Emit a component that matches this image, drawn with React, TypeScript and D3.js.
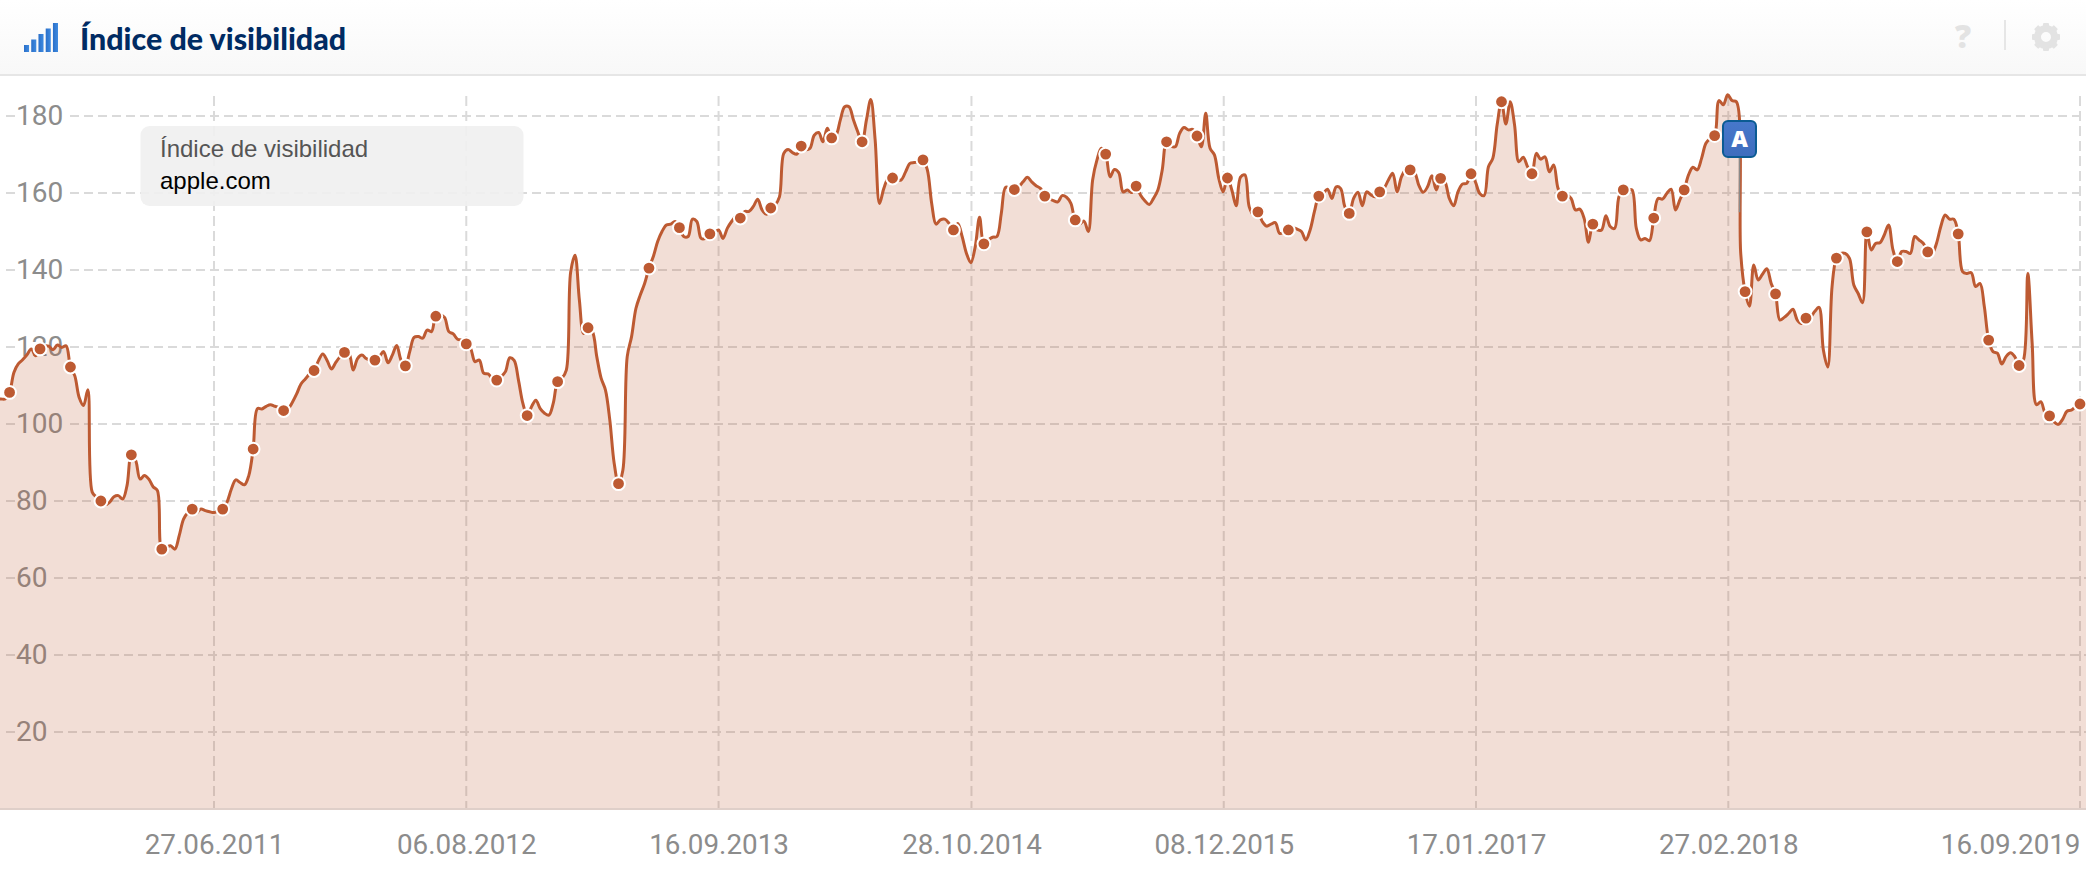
import React, { useEffect, useRef } from "react";
import * as d3 from "d3";

const WIDTH = 2086;
const HEIGHT = 876;

// weekly readings, first one is the week of firstWeek
const firstWeek = "12.07.2010";
const markerOffset = 3; // a dot every 7 weeks, from index 3
const markerStep = 7;
const values = [
  106.5, 106.5, 106.5, 108.2, 113.4, 115.6, 116.7, 118, 119.5, 117.7, 119.5, 120.3, 120.2, 119.3, 120.5, 119.9, 120.3, 114.8, 112.5, 106.9,
  104.8, 108.9, 82.3, 81, 80, 79, 79.7, 81.1, 81.4, 80.5, 84, 92, 90.5, 85.7, 86.6, 85.7, 83.7, 82.7, 67.5, 68,
  68.4, 67.5, 71, 75.3, 77, 77.9, 77, 77.9, 77.5, 77.2, 77, 77.5, 77.9, 79.7, 83.1, 85.5, 84.8, 84.2, 86.6, 93.5,
  104, 103.9, 104.6, 105, 104.6, 104.3, 103.5, 103.9, 105.6, 107.8, 110.4, 111.7, 113, 113.9, 116.4, 118.2, 116.5, 114.3, 116, 117.5,
  118.6, 118.4, 114, 117, 117.9, 117, 116.5, 116.6, 117.5, 118.8, 115.9, 117.9, 120.4, 116.6, 115.1, 118.8, 122.5, 122.7, 122.3, 124.4,
  124, 128, 128.3, 127.7, 124, 123.4, 122, 121.8, 120.8, 119.6, 116.2, 116.6, 113.2, 113, 111.9, 111.4, 112.3, 113.6, 117.2, 116.5,
  111.4, 105.4, 102.2, 104.5, 106.2, 104, 102.8, 102.3, 105.4, 111, 111.9, 114, 139.5, 143.8, 132.2, 123.5, 125, 124, 117.5, 111.9,
  108.8, 101, 89.8, 84.5, 88, 117.5, 122.7, 130, 133.5, 136.5, 140.5, 143.5, 147.4, 150, 151.7, 151.9, 152.6, 151, 148.7, 148.7,
  153.2, 152.6, 148.2, 148.2, 149.4, 149.7, 150.4, 148.2, 150.8, 152.6, 153.9, 153.5, 155.2, 155.2, 156.5, 158.4, 155.6, 154.5, 156.1, 156.9,
  159, 170.3, 171.3, 170.5, 170.1, 172.2, 171.3, 171.6, 175, 175.7, 173.3, 176.8, 174.3, 175, 179, 182.4, 182.4, 179, 175.9, 173.3,
  179, 184.3, 173.8, 157.3, 161.2, 163.8, 163.9, 163.4, 163.4, 165.5, 167.7, 167.9, 168.1, 168.6, 166, 157.3, 151.9, 153, 153.2, 152.1,
  150.4, 152.1, 148.7, 144.3, 141.9, 146, 153.7, 146.8, 147.8, 148.5, 148.7, 154.7, 161.5, 161.2, 160.9, 161.6, 162.9, 164.1, 162.9, 161.9,
  161.2, 159.2, 158.6, 158, 157.7, 159.3, 158.9, 157.3, 153, 152, 152.7, 150, 163.4, 168.6, 171.6, 170.1, 164.2, 166.1, 165.3, 160.3,
  160.8, 160.1, 161.8, 159.5, 158, 157, 158.6, 160.8, 166, 173.3, 172.2, 172, 175.5, 177, 176.4, 176.5, 174.8, 172, 180.7, 171.6,
  169.9, 163.8, 160.3, 163.9, 160.8, 156.7, 164.1, 164.7, 156.4, 154.3, 155.1, 152.6, 151.4, 151.9, 152.3, 149.5, 149.8, 150.4, 151, 150.6,
  150, 147.8, 150.4, 155.2, 159.2, 159.9, 161, 158.6, 161.6, 161.2, 156.4, 154.7, 158.6, 160.2, 156.7, 160.3, 159.5, 159, 160.3, 161.2,
  163.4, 165.1, 160.3, 164.2, 166, 166, 165.4, 162, 160.2, 161.6, 164.5, 160.8, 163.8, 162.9, 158.6, 156.7, 160.3, 162.3, 162.5, 165,
  162.9, 159.9, 159.3, 166.8, 169, 177.7, 183.7, 177.9, 183.7, 177.7, 168.1, 169.3, 166.8, 165, 170.3, 168.8, 169.4, 165.5, 167.3, 161.2,
  159.2, 159.5, 158.6, 155.6, 155.8, 153.4, 147.2, 151.9, 150.4, 150.4, 154.1, 151.3, 150.8, 159, 160.8, 160.8, 160.8, 150.8, 147.8, 148.2,
  147.6, 153.5, 158.6, 158.4, 159.9, 161, 155.6, 158.2, 160.8, 164.7, 166.7, 166, 169, 172.9, 174.2, 174.9, 184, 182.9, 185.5, 184,
  183.7, 144.3, 134.4, 130.6, 141.3, 137.4, 138.9, 140.3, 136.5, 133.8, 127, 127.7, 128.7, 129.8, 127, 126.1, 127.5, 127.7, 129.2, 130.3,
  119.2, 114.8, 135.7, 143.1, 144.3, 144.3, 143, 136.1, 133.9, 131.5, 149.9, 145.2, 146.9, 147.1, 149.1, 151.7, 145.2, 142.2, 144.8, 144.8,
  144.3, 148.7, 147.8, 146.9, 144.7, 144.3, 146.9, 151.3, 154.3, 153.2, 153.2, 149.4, 139.6, 139.1, 139.3, 135.7, 136.5, 130.5, 121.8, 118.8,
  118.4, 115.6, 117.5, 118.5, 117.5, 115.2, 116.6, 139.1, 121, 105, 105.8, 102.8, 102.1, 100.6, 99.9, 101.2, 103.3, 103.6, 104.5, 105.2,
  105.5, 105.6,
];

const yTicks = [20, 40, 60, 80, 100, 120, 140, 160, 180];
const xTicks = ["27.06.2011", "06.08.2012", "16.09.2013", "28.10.2014", "08.12.2015", "17.01.2017", "27.02.2018", "16.09.2019"];
const iconBars = [1, 2, 3, 4, 5];
const flagDate = "17.03.2018";
const flagValue = 155;

const LINE = "#bd5a32";
const GRID = "#dadada";
const TICK = "#8c8c8c";

const App = () => {
  const ref = useRef<SVGSVGElement>(null);

  useEffect(() => {
    const svg = d3.select(ref.current);
    svg.selectAll("*").remove();

    const parse = d3.timeParse("%d.%m.%Y");
    const fmt = d3.timeFormat("%d.%m.%Y");
    const tickDates = xTicks.map((d) => parse(d) as Date);
    const start = parse(firstWeek) as Date;
    const data = values.map((v, i) => ({ date: d3.timeDay.offset(start, i * 7), value: v, i }));

    const x = d3.scaleTime().domain([tickDates[0], tickDates[tickDates.length - 1]]).range([214, 2080]);
    const y = d3.scaleLinear().domain([0, 180]).range([809, 116]);

    const defs = svg.append("defs");
    const head = defs.append("linearGradient").attr("id", "head").attr("x1", 0).attr("x2", 0).attr("y1", 0).attr("y2", 1);
    head.append("stop").attr("offset", "0%").attr("stop-color", "#ffffff");
    head.append("stop").attr("offset", "100%").attr("stop-color", "#f8f8f8");
    const bars = defs.append("linearGradient").attr("id", "bars").attr("x1", 0).attr("x2", 1).attr("y1", 0).attr("y2", 0);
    bars.append("stop").attr("offset", "0%").attr("stop-color", "#2a6fc9");
    bars.append("stop").attr("offset", "100%").attr("stop-color", "#3f8be0");
    const flag = defs.append("linearGradient").attr("id", "flag").attr("x1", 0).attr("x2", 0).attr("y1", 0).attr("y2", 1);
    flag.append("stop").attr("offset", "0%").attr("stop-color", "#4778cb");
    flag.append("stop").attr("offset", "100%").attr("stop-color", "#3e6dbd");
    defs.append("clipPath").attr("id", "plot").append("rect").attr("x", 0).attr("y", 76).attr("width", WIDTH).attr("height", 733);

    svg.append("rect").attr("width", WIDTH).attr("height", HEIGHT).attr("fill", "#ffffff");

    // header
    svg.append("rect").attr("width", WIDTH).attr("height", 75).attr("fill", "url(#head)");
    svg.append("rect").attr("y", 74).attr("width", WIDTH).attr("height", 2).attr("fill", "#e6e6e6");
    const barX = d3.scaleBand<number>().domain(iconBars).range([24, 58]).paddingInner(0.3);
    const barH = d3.scaleLinear().domain([1, 5]).range([7, 29]);
    svg.append("g").selectAll("rect").data(iconBars).join("rect")
      .attr("x", (d) => barX(d) as number)
      .attr("y", (d) => 52 - barH(d))
      .attr("width", barX.bandwidth())
      .attr("height", (d) => barH(d))
      .attr("fill", "url(#bars)");
    svg.append("text").attr("x", 80).attr("y", 50)
      .attr("font-family", "Lato").attr("font-weight", 900).attr("font-size", 30.4).attr("fill", "#002b63")
      .text("Índice de visibilidad");

    svg.append("text").attr("x", 1963).attr("y", 48).attr("text-anchor", "middle")
      .attr("font-family", "Open Sans").attr("font-weight", 800).attr("font-size", 32).attr("fill", "#e3e3e3").text("?");
    svg.append("rect").attr("x", 2004).attr("y", 20).attr("width", 2).attr("height", 30).attr("fill", "#e6e6e6");
    const gear = svg.append("g").attr("transform", "translate(2046,37)").attr("fill", "#e3e3e3");
    gear.append("circle").attr("r", 8.5).attr("fill", "none").attr("stroke", "#e3e3e3").attr("stroke-width", 7);
    d3.range(8).forEach((i) => {
      gear.append("rect").attr("x", -3).attr("y", -14).attr("width", 6).attr("height", 6).attr("rx", 1)
        .attr("transform", `rotate(${i * 45})`);
    });

    // grid and axis labels sit under the translucent area
    const grid = svg.append("g").attr("fill", "none").attr("stroke", GRID).attr("stroke-width", 2);
    xTicks.forEach((d, i) => {
      grid.append("line").attr("x1", x(tickDates[i])).attr("x2", x(tickDates[i]))
        .attr("y1", 96).attr("y2", 809).attr("stroke-dasharray", "10 5");
    });
    yTicks.forEach((v) => {
      const labelEnd = v >= 100 ? 70 : 54;
      grid.append("line").attr("x1", 6).attr("x2", 15).attr("y1", y(v)).attr("y2", y(v));
      grid.append("line").attr("x1", labelEnd).attr("x2", WIDTH).attr("y1", y(v)).attr("y2", y(v))
        .attr("stroke-dasharray", "9 5");
    });

    const yAxis = d3.axisLeft(y).tickValues(yTicks).tickSize(0).tickPadding(0);
    const yG = svg.append("g").attr("transform", "translate(16,0)").call(yAxis);
    yG.select(".domain").remove();
    yG.selectAll("text")
      .attr("text-anchor", "start").attr("x", 0).attr("dy", "0.29em")
      .attr("font-family", "Roboto").attr("font-size", 28).attr("fill", TICK);

    const xAxis = d3.axisBottom(x).tickValues(tickDates).tickFormat((d) => fmt(d as Date)).tickSize(0).tickPadding(0);
    const xG = svg.append("g").attr("transform", "translate(0,854)").call(xAxis);
    xG.select(".domain").remove();
    xG.selectAll("text")
      .attr("y", 0).attr("dy", 0)
      .attr("text-anchor", (_, i) => (i === xTicks.length - 1 ? "end" : "middle"))
      .attr("font-family", "Roboto").attr("font-size", 27.8).attr("fill", TICK);

    // legend box
    svg.append("rect").attr("x", 140.5).attr("y", 126).attr("width", 383).attr("height", 80).attr("rx", 9)
      .attr("fill", "#f0f0f0").attr("fill-opacity", 0.92);
    svg.append("text").attr("x", 160).attr("y", 157).attr("font-family", "Liberation Sans").attr("font-size", 24)
      .attr("fill", "#555555").text("Índice de visibilidad");
    svg.append("text").attr("x", 160).attr("y", 189).attr("font-family", "Liberation Sans").attr("font-size", 24)
      .attr("fill", "#000000").text("apple.com");

    const curve = d3.curveCatmullRom.alpha(0.5);
    const area = d3.area<(typeof data)[number]>().x((d) => x(d.date)).y0(y(0)).y1((d) => y(d.value)).curve(curve);
    const line = d3.line<(typeof data)[number]>().x((d) => x(d.date)).y((d) => y(d.value)).curve(curve);

    const plot = svg.append("g").attr("clip-path", "url(#plot)");
    plot.append("path").datum(data).attr("d", area).attr("fill", LINE).attr("fill-opacity", 0.2);
    svg.append("rect").attr("x", 0).attr("y", 808).attr("width", WIDTH).attr("height", 2).attr("fill", "#dfcfc9");
    plot.append("path").datum(data).attr("d", line).attr("fill", "none").attr("stroke", LINE)
      .attr("stroke-width", 3).attr("stroke-linejoin", "round");

    // flag stem, dots, flag
    const fx = x(parse(flagDate) as Date);
    svg.append("line").attr("x1", fx).attr("x2", fx).attr("y1", 150).attr("y2", y(flagValue))
      .attr("stroke", "#8a8a8a").attr("stroke-width", 1.5);

    svg.append("g").selectAll("circle")
      .data(data.filter((d) => (d.i - markerOffset) % markerStep === 0 && d.i >= markerOffset && d.i <= 479))
      .join("circle")
      .attr("cx", (d) => x(d.date)).attr("cy", (d) => y(d.value)).attr("r", 6.4)
      .attr("fill", LINE).attr("stroke", "#ffffff").attr("stroke-width", 2);

    svg.append("rect").attr("x", fx - 16.5).attr("y", 121).attr("width", 33).attr("height", 36).attr("rx", 5)
      .attr("fill", "url(#flag)").attr("stroke", "#0b5b93").attr("stroke-width", 2);
    svg.append("text").attr("x", fx).attr("y", 147).attr("text-anchor", "middle")
      .attr("font-family", "Open Sans").attr("font-weight", 800).attr("font-size", 23).attr("fill", "#ffffff").text("A");
  }, []);

  return <svg ref={ref} width={WIDTH} height={HEIGHT} style={{ position: "absolute", left: 0, top: 0, display: "block" }} />;
};

export default App;
